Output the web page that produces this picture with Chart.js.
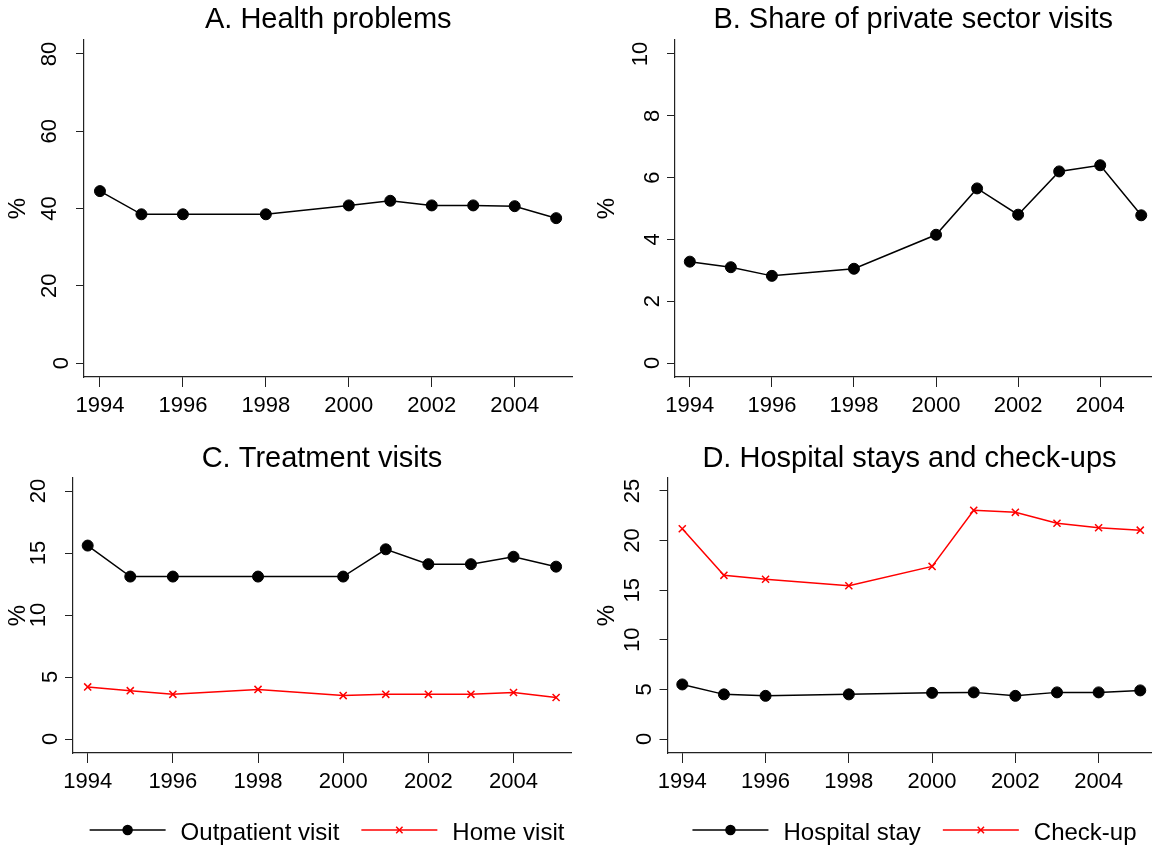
<!DOCTYPE html>
<html>
<head>
<meta charset="utf-8">
<script src="https://cdn.jsdelivr.net/npm/chart.js@4/dist/chart.umd.min.js"></script>
<style>
body { margin: 0; background: #fff; }
.panel { position: absolute; }
</style>
</head>
<body>
<div class="panel" style="left:0;top:0;width:579px;height:425px"><canvas id="chartA"></canvas></div>
<div class="panel" style="left:579px;top:0;width:579px;height:425px"><canvas id="chartB"></canvas></div>
<div class="panel" style="left:0;top:425px;width:579px;height:426px"><canvas id="chartC"></canvas></div>
<div class="panel" style="left:579px;top:425px;width:579px;height:426px"><canvas id="chartD"></canvas></div>
<script>
// survey years (1997 and 1999 are missing)
var years = [1994, 1995, 1996, 1998, 2000, 2001, 2002, 2003, 2004, 2005];
var xTicks = [1994, 1996, 1998, 2000, 2002, 2004];

// A. Health problems (%)
var healthProblems = [44.5, 38.5, 38.5, 38.5, 40.8, 42.0, 40.8, 40.8, 40.6, 37.5];
// B. Share of private sector visits (%)
var privateShare = [3.28, 3.1, 2.82, 3.05, 4.15, 5.65, 4.8, 6.2, 6.4, 4.78];
// C. Treatment visits (%)
var outpatientVisit = [15.6, 13.1, 13.1, 13.1, 13.1, 15.3, 14.1, 14.1, 14.7, 13.9];
var homeVisit = [4.2, 3.9, 3.6, 4.0, 3.5, 3.6, 3.6, 3.6, 3.75, 3.35];
// D. Hospital stays and check-ups (%)
var hospitalStay = [5.5, 4.5, 4.35, 4.5, 4.65, 4.7, 4.35, 4.7, 4.7, 4.9];
var checkUp = [21.2, 16.5, 16.1, 15.45, 17.4, 23.05, 22.85, 21.75, 21.3, 21.05];

var yTicksA = [0, 20, 40, 60, 80];
var yTicksB = [0, 2, 4, 6, 8, 10];
var yTicksC = [0, 5, 10, 15, 20];
var yTicksD = [0, 5, 10, 15, 20, 25];

var FONT = '"Liberation Sans", Arial, Helvetica, sans-serif';

function points(vals) {
    return years.map(function (y, i) { return { x: y, y: vals[i] }; });
}

function blackSeries(label, vals) {
    return {
        label: label, data: points(vals),
        borderColor: '#000', backgroundColor: '#000', borderWidth: 1.5,
        pointStyle: 'circle', pointRadius: 5.5, pointBorderWidth: 1,
        pointBackgroundColor: '#000', pointBorderColor: '#000'
    };
}

function redSeries(label, vals) {
    return {
        label: label, data: points(vals),
        borderColor: '#ff0000', backgroundColor: '#ff0000', borderWidth: 1.5,
        pointStyle: 'crossRot', pointRadius: 5, pointBorderWidth: 1.5,
        pointBorderColor: '#ff0000'
    };
}

// panel title, centred over the plot area
var panelTitle = {
    id: 'panelTitle',
    afterDraw: function (chart, args, opts) {
        var ctx = chart.ctx, area = chart.chartArea;
        ctx.save();
        ctx.font = '29px ' + FONT;
        ctx.fillStyle = '#000';
        ctx.textAlign = 'center';
        ctx.textBaseline = 'alphabetic';
        ctx.fillText(opts.text, (area.left + area.right) / 2, opts.baseline);
        ctx.restore();
    }
};

// y tick labels are written vertically, as in the original
var rotatedYLabels = {
    id: 'rotatedYLabels',
    afterDraw: function (chart) {
        var s = chart.scales.y, ctx = chart.ctx;
        ctx.save();
        ctx.font = '22px ' + FONT;
        ctx.fillStyle = '#000';
        ctx.textAlign = 'center';
        ctx.textBaseline = 'alphabetic';
        s.ticks.forEach(function (t) {
            var label = String(t.value);
            var w = ctx.measureText(label).width;
            ctx.save();
            ctx.translate(chart.chartArea.left - 4 - w, s.getPixelForValue(t.value));
            ctx.rotate(-Math.PI / 2);
            ctx.fillText(label, 0, 0);
            ctx.restore();
        });
        ctx.restore();
    }
};

// legend drawn as line + marker + text under the x axis
var stataLegend = {
    id: 'stataLegend',
    afterDraw: function (chart, args, opts) {
        if (!opts || !opts.show) return;
        var ctx = chart.ctx, area = chart.chartArea;
        var lineLen = 76, gapText = 15, gapItem = 22;
        ctx.save();
        ctx.font = '24px ' + FONT;
        var sets = chart.data.datasets;
        var total = 0;
        sets.forEach(function (ds, i) {
            total += lineLen + gapText + ctx.measureText(ds.label).width;
            if (i < sets.length - 1) total += gapItem;
        });
        var x = (area.left + area.right) / 2 + 5 - total / 2;
        var y = opts.y;
        sets.forEach(function (ds) {
            ctx.strokeStyle = ds.borderColor;
            ctx.fillStyle = ds.borderColor;
            ctx.lineWidth = 1.5;
            ctx.beginPath();
            ctx.moveTo(x, y);
            ctx.lineTo(x + lineLen, y);
            ctx.stroke();
            Chart.helpers.drawPoint(ctx, {
                pointStyle: ds.pointStyle,
                radius: ds.pointStyle === 'circle' ? 4.5 : 4.5,
                borderWidth: ds.pointBorderWidth
            }, x + lineLen / 2, y);
            ctx.fillStyle = '#000';
            ctx.textAlign = 'left';
            ctx.textBaseline = 'middle';
            ctx.fillText(ds.label, x + lineLen + gapText, y + 3);
            x += lineLen + gapText + ctx.measureText(ds.label).width + gapItem;
        });
        ctx.restore();
    }
};

function panel(id, o) {
    return new Chart(document.getElementById(id), {
        type: 'line',
        data: { datasets: o.datasets },
        options: {
            responsive: true,
            maintainAspectRatio: false,
            animation: false,
            layout: { padding: { left: 0, right: o.padRight, top: o.areaTop, bottom: 0 } },
            plugins: {
                legend: { display: false },
                tooltip: { enabled: false },
                title: { display: false },
                panelTitle: { text: o.title, baseline: o.titleBaseline },
                stataLegend: o.legend
            },
            scales: {
                x: {
                    type: 'linear', min: o.xMin, max: o.xMax,
                    afterBuildTicks: function (s) { s.ticks = xTicks.map(function (v) { return { value: v }; }); },
                    afterFit: function (s) { s.height = o.xHeight; },
                    grid: { drawOnChartArea: false, drawTicks: true, tickLength: 10, color: '#222', lineWidth: 1 },
                    border: { display: true, color: '#222', width: 1.2 },
                    ticks: {
                        callback: function (v) { return String(v); },
                        color: '#000', font: { family: FONT, size: 22 },
                        padding: 6, maxRotation: 0, minRotation: 0, autoSkip: false
                    }
                },
                y: {
                    type: 'linear', min: o.yMin, max: o.yMax,
                    afterBuildTicks: function (s) { s.ticks = o.yTicks.map(function (v) { return { value: v }; }); },
                    afterFit: function (s) { s.width = o.yWidth; },
                    grid: { drawOnChartArea: false, drawTicks: true, tickLength: 8, color: '#222', lineWidth: 1 },
                    border: { display: true, color: '#222', width: 1.2 },
                    ticks: { display: false },
                    title: {
                        display: true, text: '%', color: '#000',
                        font: { family: FONT, size: 24 },
                        padding: { top: o.pctPad, bottom: 0 }
                    }
                }
            }
        },
        plugins: [panelTitle, rotatedYLabels, stataLegend]
    });
}

panel('chartA', {
    title: 'A. Health problems', titleBaseline: 28, areaTop: 40,
    datasets: [blackSeries('Health problems', healthProblems)],
    yTicks: yTicksA, yMin: -3.62, yMax: 83.62,
    xMin: 1993.615, xMax: 2005.394,
    yWidth: 84, padRight: 5, xHeight: 48, pctPad: 3.5,
    legend: { show: false }
});

panel('chartB', {
    title: 'B. Share of private sector visits', titleBaseline: 28, areaTop: 40,
    datasets: [blackSeries('Private sector', privateShare)],
    yTicks: yTicksB, yMin: -0.453, yMax: 10.453,
    xMin: 1993.639, xMax: 2005.25,
    yWidth: 96, padRight: 0, xHeight: 48, pctPad: 14,
    legend: { show: false }
});

panel('chartC', {
    title: 'C. Treatment visits', titleBaseline: 41.5, areaTop: 53,
    datasets: [blackSeries('Outpatient visit', outpatientVisit), redSeries('Home visit', homeVisit)],
    yTicks: yTicksC, yMin: -1.129, yMax: 21.05,
    xMin: 1993.655, xMax: 2005.35,
    yWidth: 73, padRight: 8, xHeight: 98, pctPad: 3.5,
    legend: { show: true, y: 405 }
});

panel('chartD', {
    title: 'D. Hospital stays and check-ups', titleBaseline: 41.5, areaTop: 53,
    datasets: [blackSeries('Hospital stay', hospitalStay), redSeries('Check-up', checkUp)],
    yTicks: yTicksD, yMin: -1.411, yMax: 26.31,
    xMin: 1993.645, xMax: 2005.27,
    yWidth: 88.5, padRight: 0, xHeight: 98, pctPad: 14,
    legend: { show: true, y: 405 }
});
</script>
</body>
</html>
